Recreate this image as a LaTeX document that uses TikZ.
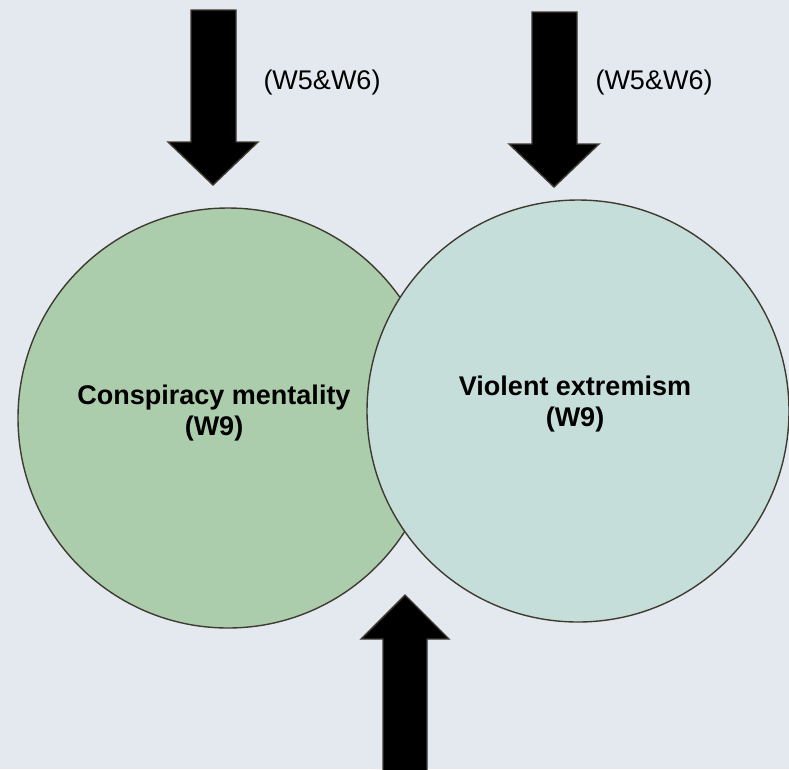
\documentclass[tikz,border=0pt]{standalone}
\usepackage{fontspec}
\setmainfont{Liberation Sans}
\definecolor{bgcol}{HTML}{E4E9F0}
\definecolor{greenfill}{HTML}{ABCDAC}
\definecolor{tealfill}{HTML}{C6DEDA}
\definecolor{edgecol}{HTML}{3F3B30}
\tikzset{
  venn/.style={circle, draw=edgecol, line width=1.4pt, inner sep=0pt},
  blockarrow/.style={fill=black, draw=edgecol, line width=1.4pt, line join=miter},
  wavetext/.style={font=\fontsize{27}{31}\selectfont},
  boldtext/.style={font=\fontsize{27}{31}\selectfont\bfseries, align=center}
}
\begin{document}
\begin{tikzpicture}[x=1pt, y=-1pt]
\useasboundingbox[fill=bgcol] (0,0) rectangle (789,769);
% circles
\node[venn, fill=greenfill, minimum size=420pt] (conspiracy) at (228,418) {};
\node[venn, fill=tealfill, minimum size=422pt] (extremism) at (578,411) {};
\node[boldtext] (conspiracytext) at (214,413) {Conspiracy mentality\\(W9)};
\node[boldtext] (extremismtext) at (575,404) {Violent extremism\\(W9)};
% arrows
\draw[blockarrow] (191,10) -- (236,10) -- (236,142) -- (258,142) -- (213,185) -- (168,142) -- (191,142) -- cycle;
\draw[blockarrow] (532,12) -- (577,12) -- (577,144) -- (599,144) -- (554,187) -- (509,144) -- (532,144) -- cycle;
\draw[blockarrow] (383,775) -- (383,639) -- (361,639) -- (405,595) -- (449,639) -- (427,639) -- (427,775) -- cycle;
\node[wavetext] (wavesleft) at (322,83) {(W5\&W6)};
\node[wavetext] (wavesright) at (654,83) {(W5\&W6)};
\end{tikzpicture}
\end{document}
